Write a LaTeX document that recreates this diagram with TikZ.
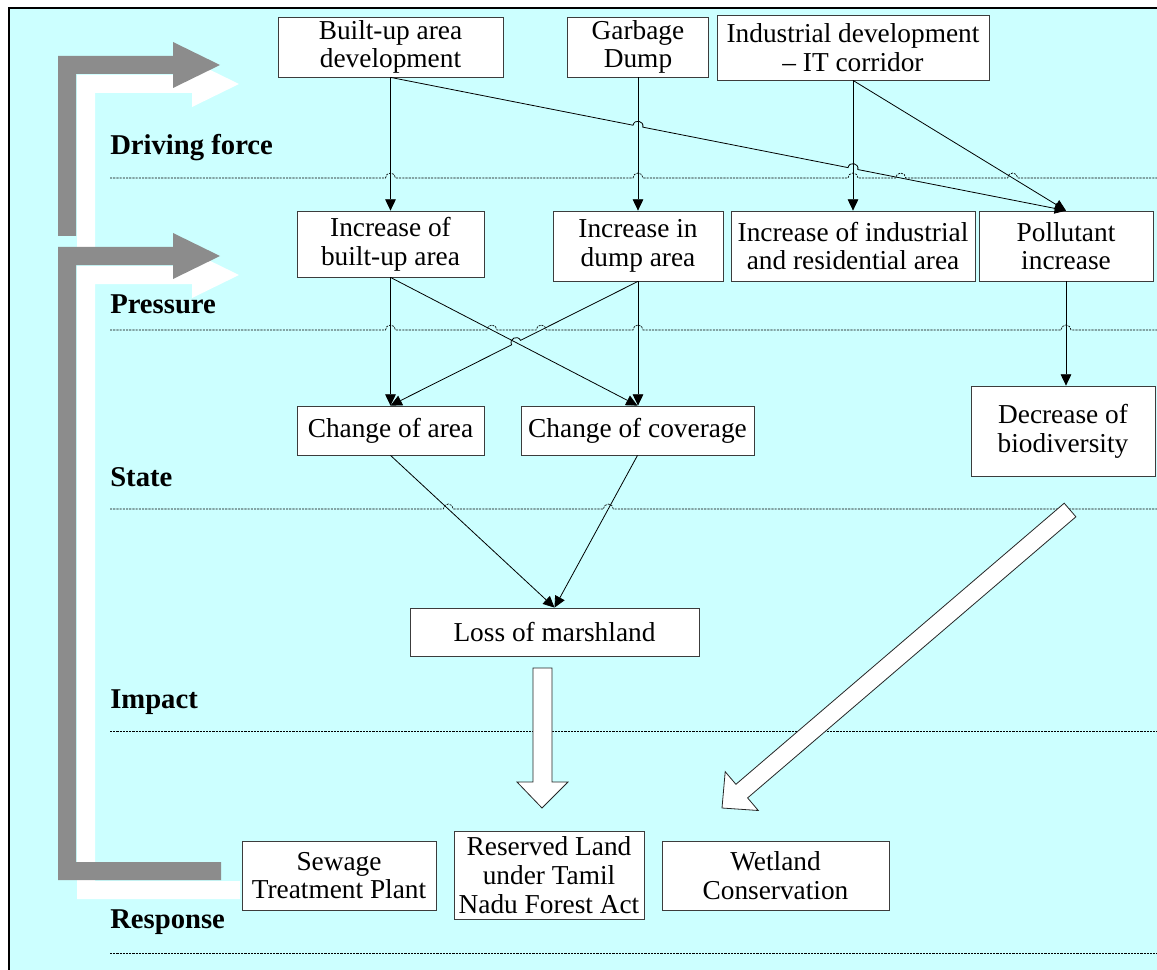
\documentclass[tikz,border=0pt]{standalone}
\usepackage{fontspec}
\setmainfont{Liberation Serif}
\usetikzlibrary{arrows.meta,calc}

\definecolor{panel}{RGB}{204,255,255}
\definecolor{bargray}{RGB}{140,140,140}
\definecolor{boxline}{RGB}{60,60,60}

\begin{document}
\begin{tikzpicture}[x=0.75pt,y=-0.75pt,
  box/.style={draw=boxline, fill=white, line width=0.6pt, align=center,
    inner sep=0pt, font=\fontsize{20.5}{21.5}\selectfont},
  stage/.style={anchor=base west, inner sep=0pt,
    font=\bfseries\fontsize{21.5}{22}\selectfont},
  link/.style={line width=0.6pt, -{Triangle[length=8.5pt,width=8pt]}},
  rule/.style={line width=0.5pt, dash pattern=on 1.6pt off 0.8pt},
  blockarrow/.style={fill=white, draw=black!85, line width=0.6pt},
  feedback/.style={fill=bargray},
  feedshadow/.style={fill=white}]

\useasboundingbox (0,0) rectangle (1157,970);
\clip (0,0) rectangle (1157,970);

% panel
\fill[white] (0,0) rectangle (1157,970);
\draw[fill=panel, line width=1.5pt] (9,8) rectangle (1175,990);

% stage labels
\node[stage] (sDF) at (110,155) {Driving force};
\node[stage] (sP)  at (110,313) {Pressure};
\node[stage] (sS)  at (110,486) {State};
\node[stage] (sI)  at (110,708) {Impact};
\node[stage] (sR)  at (110,928) {Response};

% boxes
\node[box, minimum width=168.75pt, minimum height=45pt]   (b1)  at (390.5,47)   {Built-up area\\development};
\node[box, minimum width=105.75pt, minimum height=45pt]   (b2)  at (638,47)     {Garbage\\Dump};
\node[box, minimum width=204pt,    minimum height=48.75pt](b3)  at (853,47.5)   {Industrial development\\– IT corridor};
\node[box, minimum width=140.25pt, minimum height=49.5pt] (b4)  at (390.5,244)  {Increase of\\built-up area};
\node[box, minimum width=127.5pt,  minimum height=52.5pt] (b5)  at (638,246)    {Increase in\\dump area};
\node[box, minimum width=183pt,    minimum height=52.5pt] (b6)  at (853,246)    {Increase of industrial\\and residential area};
\node[box, minimum width=130.5pt,  minimum height=52.5pt] (b7)  at (1066,246)   {Pollutant\\increase};
\node[box, minimum width=140.25pt, minimum height=36.75pt](b8)  at (390.5,430.5){Change of area};
\node[box, minimum width=174.75pt, minimum height=36.75pt](b9)  at (637.5,430.5){Change of coverage};
\node[box, minimum width=138pt,    minimum height=67.5pt] (b10) at (1063,431)   {Decrease of\\biodiversity};
\node[box, minimum width=216.75pt, minimum height=36pt]   (b11) at (554.5,632)  {Loss of marshland};
\node[box, minimum width=145.5pt,  minimum height=51.75pt](b12) at (339,875.5)  {Sewage\\Treatment Plant};
\node[box, minimum width=142.5pt,  minimum height=66pt, font=\fontsize{20.5}{22}\selectfont]
                                                          (b13) at (549,875)    {Reserved Land\\under Tamil\\Nadu Forest Act};
\node[box, minimum width=170.25pt, minimum height=51.75pt](b14) at (775.5,875.5){Wetland\\Conservation};

% stage separators
\coordinate (r1w) at (110,178); \coordinate (r1e) at (1157,178);
\coordinate (r2w) at (110,330); \coordinate (r2e) at (1157,330);
\coordinate (r3w) at (110,509); \coordinate (r3e) at (1157,509);
\coordinate (r4w) at (110,731); \coordinate (r4e) at (1157,731);
\coordinate (r5w) at (110,953); \coordinate (r5e) at (1157,953);

% crossing points of connectors with separators
\coordinate (x11) at (b1.south |- r1w);
\coordinate (x12) at (b2.south |- r1w);
\coordinate (x13) at (b3.south |- r1w);
\coordinate (x14) at (intersection cs: first line={(b1.south)--(b7.north)}, second line={(r1w)--(r1e)});
\coordinate (x15) at (intersection cs: first line={(b3.south)--(b7.north)}, second line={(r1w)--(r1e)});
\coordinate (x21) at (b4.south |- r2w);
\coordinate (x22) at (intersection cs: first line={(b4.south)--(b9.north)}, second line={(r2w)--(r2e)});
\coordinate (x23) at (intersection cs: first line={(b5.south)--(b8.north)}, second line={(r2w)--(r2e)});
\coordinate (x24) at (b5.south |- r2w);
\coordinate (x25) at (b7.south |- r2w);
\coordinate (x31) at (intersection cs: first line={(b8.south)--(b11.north)}, second line={(r3w)--(r3e)});
\coordinate (x32) at (intersection cs: first line={(b9.south)--(b11.north)}, second line={(r3w)--(r3e)});

\draw[rule] (r1w)
  -- ($(x11)+(-5,0)$) arc[start angle=180,end angle=0,radius=3.75pt]
  -- ($(x12)+(-5,0)$) arc[start angle=180,end angle=0,radius=3.75pt]
  -- ($(x13)+(-5,0)$) arc[start angle=180,end angle=0,radius=3.75pt]
  -- ($(x14)+(-5,0)$) arc[start angle=180,end angle=0,radius=3.75pt]
  -- ($(x15)+(-5,0)$) arc[start angle=180,end angle=0,radius=3.75pt]
  -- (r1e);
\draw[rule] (r2w)
  -- ($(x21)+(-5,0)$) arc[start angle=180,end angle=0,radius=3.75pt]
  -- ($(x22)+(-5,0)$) arc[start angle=180,end angle=0,radius=3.75pt]
  -- ($(x23)+(-5,0)$) arc[start angle=180,end angle=0,radius=3.75pt]
  -- ($(x24)+(-5,0)$) arc[start angle=180,end angle=0,radius=3.75pt]
  -- ($(x25)+(-5,0)$) arc[start angle=180,end angle=0,radius=3.75pt]
  -- (r2e);
\draw[rule] (r3w)
  -- ($(x31)+(-5,0)$) arc[start angle=180,end angle=0,radius=3.75pt]
  -- ($(x32)+(-5,0)$) arc[start angle=180,end angle=0,radius=3.75pt]
  -- (r3e);
\draw[rule] (r4w) -- (r4e);
\draw[rule] (r5w) -- (r5e);

% hops where connectors cross each other
\coordinate (hA) at (intersection cs: first line={(b1.south)--(b7.north)}, second line={(b2.south)--(b5.north)});
\coordinate (hB) at (intersection cs: first line={(b1.south)--(b7.north)}, second line={(b3.south)--(b6.north)});
\coordinate (hC) at (intersection cs: first line={(b5.south)--(b8.north)}, second line={(b4.south)--(b9.north)});
\coordinate (hA1) at ($(hA)!3.75pt!(b1.south)$);
\coordinate (hA2) at ($(hA)!3.75pt!(b7.north)$);
\coordinate (hB1) at ($(hB)!3.75pt!(b1.south)$);
\coordinate (hB2) at ($(hB)!3.75pt!(b7.north)$);
\coordinate (hC1) at ($(hC)!3.75pt!(b5.south)$);
\coordinate (hC2) at ($(hC)!3.75pt!(b8.north)$);

% connectors
\draw[link] (b1.south) -- (b4.north);
\draw[link] (b1.south) -- (hA1)
  .. controls ($(hA1)!5pt!90:(hA2)$) and ($(hA2)!5pt!-90:(hA1)$) .. (hA2)
  -- (hB1)
  .. controls ($(hB1)!5pt!90:(hB2)$) and ($(hB2)!5pt!-90:(hB1)$) .. (hB2)
  -- (b7.north);
\draw[link] (b2.south) -- (b5.north);
\draw[link] (b3.south) -- (b6.north);
\draw[link] (b3.south) -- (b7.north);
\draw[link] (b4.south) -- (b8.north);
\draw[link] (b4.south) -- (b9.north);
\draw[link] (b5.south) -- (hC1)
  .. controls ($(hC1)!5pt!-90:(hC2)$) and ($(hC2)!5pt!90:(hC1)$) .. (hC2)
  -- (b8.north);
\draw[link] (b5.south) -- (b5.south |- b9.north);
\draw[link] (b7.south) -- (b7.south |- b10.north);
\draw[link] (b8.south) -- (b11.north);
\draw[link] (b9.south) -- (b11.north);

% hollow block arrows towards the responses
\draw[blockarrow] (533,668) -- (552,668) -- (552,782) -- (568,782)
  -- (542,808) -- (517,782) -- (533,782) -- cycle;
\draw[blockarrow] (1064.2,503.2) -- (1075.9,516.8) -- (747.6,797.9)
  -- (758.3,810.5) -- (722,808) -- (725.2,771.7) -- (735.9,784.3) -- cycle;

% feedback arrows on the left, with their light offset shadows
\fill[feedshadow] (77,255) -- (77,75) -- (192,75) -- (192,61) -- (239,84)
  -- (192,107) -- (192,93) -- (95,93) -- (95,255) -- cycle;
\fill[feedshadow] (240,881) -- (240,899) -- (77,899) -- (77,266) -- (192,266)
  -- (192,252) -- (239,275) -- (192,298) -- (192,284) -- (95,284) -- (95,881) -- cycle;
\fill[feedback] (58,236) -- (58,56) -- (173,56) -- (173,42) -- (220,65)
  -- (173,88) -- (173,74) -- (76,74) -- (76,236) -- cycle;
\fill[feedback] (221,862) -- (221,880) -- (58,880) -- (58,247) -- (173,247)
  -- (173,233) -- (220,256) -- (173,279) -- (173,265) -- (76,265) -- (76,862) -- cycle;

\end{tikzpicture}
\end{document}
